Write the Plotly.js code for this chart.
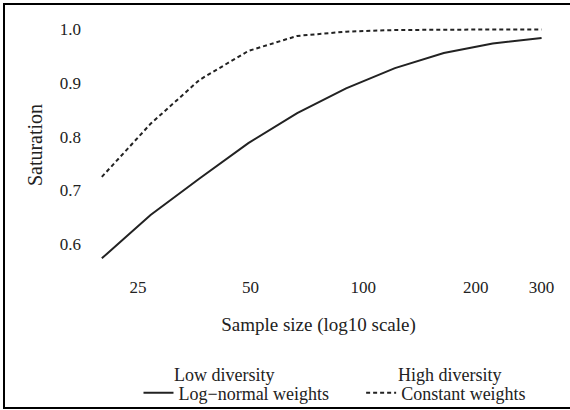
<!DOCTYPE html>
<html>
<head>
<meta charset="utf-8">
<script src="https://cdn.plot.ly/plotly-3.0.1.min.js"></script>
<style>
html,body{margin:0;padding:0;background:#fff;overflow:hidden;width:570px;height:410px;}
#frame{position:absolute;left:3px;top:3px;width:572px;height:406px;box-sizing:border-box;border:2px solid #000;pointer-events:none;z-index:10;}
#chart{position:absolute;left:0;top:0;width:570px;height:410px;}
</style>
</head>
<body>
<div id="chart"></div>
<div id="frame"></div>
<script>
const sampleSize = [20, 27, 36.5, 49.3, 66.6, 90, 121.6, 164.3, 222, 300];
const lowDiversityLogNormal = [0.573, 0.654, 0.722, 0.788, 0.844, 0.890, 0.928, 0.956, 0.974, 0.984];
const highDiversityConstant = [0.725, 0.824, 0.906, 0.960, 0.988, 0.996, 0.999, 1.0, 1.0, 1.0];
const xTicks = [25, 50, 100, 200, 300];
const yTicks = [0.6, 0.7, 0.8, 0.9, 1.0];
const yTickLabels = ['0.6', '0.7', '0.8', '0.9', '1.0'];
const seriesNames = ['Log\u2212normal weights', 'Constant weights'];
const groupTitles = ['Low diversity', 'High diversity'];

const FAM = 'Liberation Serif';
const tickFont = {family: FAM, color: '#222', size: 17};
const legFont = {family: FAM, color: '#222', size: 18};
const gapPad = '\u00a0\u00a0\u00a0\u00a0\u00a0\u00a0';

const traces = [
  {x: sampleSize, y: lowDiversityLogNormal, type: 'scatter', mode: 'lines',
   name: seriesNames[0] + gapPad,
   line: {color: '#222', width: 2}},
  {x: sampleSize, y: highDiversityConstant, type: 'scatter', mode: 'lines',
   name: seriesNames[1],
   line: {color: '#222', width: 2, dash: '4px,3px'}}
];

const layout = {
  width: 570, height: 410,
  margin: {l: 82, r: 15, t: 20, b: 140},
  paper_bgcolor: '#fff', plot_bgcolor: '#fff',
  font: tickFont,
  showlegend: true,
  legend: {orientation: 'h', x: 0.5877, xanchor: 'center', xref: 'container',
           y: 0.0415, yanchor: 'middle', yref: 'container',
           font: legFont},
  annotations: [
    {text: groupTitles[0], xref: 'paper', yref: 'paper', x: 0.190, y: -0.42, xanchor: 'left', yanchor: 'middle', showarrow: false, font: legFont},
    {text: groupTitles[1], xref: 'paper', yref: 'paper', x: 0.664, y: -0.42, xanchor: 'left', yanchor: 'middle', showarrow: false, font: legFont}
  ],
  xaxis: {type: 'log', range: [1.248, 2.513], tickvals: xTicks, ticktext: xTicks.map(String),
          showgrid: false, zeroline: false, showline: false, ticks: 'outside', ticklen: 2, tickcolor: 'rgba(0,0,0,0)',
          tickfont: tickFont, automargin: false,
          title: {text: 'Sample size (log10 scale)', font: {family: FAM, color: '#222', size: 19}, standoff: 21}},
  yaxis: {range: [0.5513, 1.0177], tickvals: yTicks, ticktext: yTickLabels,
          showgrid: false, zeroline: false, showline: false, ticks: '', ticklen: 0,
          tickfont: tickFont, automargin: false,
          title: {text: 'Saturation', font: {family: FAM, color: '#222', size: 20}, standoff: 11}}
};

Plotly.newPlot('chart', traces, layout, {staticPlot: true, displayModeBar: false});
</script>
</body>
</html>
